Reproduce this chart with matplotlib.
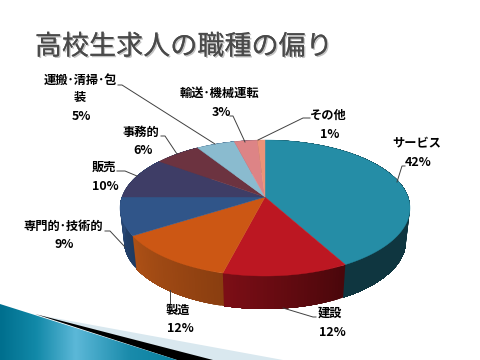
import numpy as np
import matplotlib
matplotlib.use('Agg')
import matplotlib.pyplot as plt
import matplotlib.patheffects as pe
from matplotlib.colors import LinearSegmentedColormap, to_rgb
from matplotlib.patches import Polygon

plt.rcParams['font.family'] = ['Noto Sans CJK JP', 'DejaVu Sans']

title = '高校生求人の職種の偏り'
categories = ['サービス', '建設', '製造', '専門的･技術的', '販売', '事務的', '運搬･清掃･包\n装', '輸送･機械運転', 'その他']
values = [42, 12, 12, 9, 10, 6, 5, 3, 1]
top_colors = ['#258da6', '#bc1722', '#cc5714', '#305589', '#3e3d66', '#6c3340', '#8abbcf', '#dd8486', '#ec9378']
wall_left = ['#0f3640', '#7c0e16', '#ad5016', '#2a4a78', '#2a4a78', '#2a4a78', '#2a4a78', '#2a4a78', '#2a4a78']
wall_right = ['#0f3640', '#4a070b', '#8a3e10', '#1f3b62', '#1f3b62', '#1f3b62', '#1f3b62', '#1f3b62', '#1f3b62']

# label line positions in pixels, name then percent
name_pos = [(417, 143), (330, 313), (178, 310), (63, 226), (104, 167), (141, 132), (80, 80), (219, 93), (328, 115)]
pct_pos = [(418, 162), (332, 332), (180, 329), (64, 245), (105, 186), (143, 151), (81, 116), (221, 112), (330, 134)]
leaders = [
    [(397, 182), (402, 166), (405, 166)],
    [(283, 308), (313, 317), (316, 317)],
    [(170, 290), (170, 303)],
    [(105, 231), (110, 231), (125, 247)],
    [(117, 171), (125, 171), (137, 176)],
    [(161, 136), (165, 136), (177, 154)],
    [(118, 85), (122, 85), (215, 144)],
    [(230, 116), (233, 116), (245, 142)],
    [(310, 118), (303, 118), (258, 140)],
]

fig = plt.figure(figsize=(4.8, 3.6), dpi=100)
ax = fig.add_axes([0, 0, 1, 1])
ax.axis('off')

# tilted disc: a circle seen in perspective, so the hub sits above the ellipse centre
def project(deg, cy, rx, ry=68.0, hub=11.0):
    a = np.radians(deg)
    u, v = np.sin(a), np.cos(a)
    c = hub / ry
    k = 1 + c * v
    return 265 + rx * np.sqrt(1 - c * c) * u / k, cy - ry * (v + c) / k

edges = np.cumsum([0] + values) / sum(values) * 360

# side wall first, the top covers the back of it
# each step runs on to the end of its slice so no seams show between steps
for i in range(len(values)):
    steps = np.linspace(edges[i], edges[i + 1], values[i] * 3 + 2)
    c0 = np.array(to_rgb(wall_right[i]))
    c1 = np.array(to_rgb(wall_left[i]))
    for j in range(len(steps) - 1):
        x0, y0 = project(steps[j:], 208, 145)
        x1, y1 = project(steps[j:], 241, 141)
        col = c0 + (c1 - c0) * j / (len(steps) - 2)
        pts = np.column_stack([np.r_[x0, x1[::-1]], np.r_[y0, y1[::-1]]])
        ax.add_patch(Polygon(pts, fc=col, ec='none'))

for i in range(len(values)):
    x, y = project(np.linspace(edges[i], edges[i + 1], 80), 208, 145)
    pts = np.column_stack([np.r_[265, x], np.r_[197, y]])
    ax.add_patch(Polygon(pts, fc=top_colors[i], ec=top_colors[i], lw=0.3))

for line in leaders:
    ax.plot(*zip(*line), color='#404040', lw=0.7)

for i, name in enumerate(categories):
    parts = name.split('\n')
    for k, part in enumerate(parts):
        ax.text(name_pos[i][0], name_pos[i][1] + k * 17, part, ha='center', va='center',
                fontsize=8.8, color='black', fontweight='bold')
    ax.text(pct_pos[i][0], pct_pos[i][1], '%d%%' % values[i], ha='center', va='center',
            fontsize=9, color='black', fontweight='bold')

ax.text(184, 47, title, ha='center', va='center', fontsize=19.5, color='#4a4a4a',
        path_effects=[pe.withSimplePatchShadow(offset=(1, -1), shadow_rgbFace='#999999', alpha=0.6), pe.Normal()])

# corner decoration of the slide
ax.add_patch(Polygon([(38, 315), (283, 360), (178, 360)], fc='#d9e8ef', ec='none', zorder=1))
ax.add_patch(Polygon([(35, 314), (213, 360), (177, 360)], fc='black', ec='none', zorder=1.5))
teal = LinearSegmentedColormap.from_list('teal', [(0, '#006f8e'), (0.2, '#1289a8'), (0.42, '#5cb8d8'), (0.72, '#1a8bab'), (1, '#07809f')])
im = ax.imshow(np.linspace(0, 1, 200).reshape(1, -1), cmap=teal, extent=(0, 180, 360, 300), aspect='auto', zorder=2)
clip = Polygon([(0, 304), (177, 360), (0, 360)], transform=ax.transData, fc='none', ec='none')
ax.add_patch(clip)
im.set_clip_path(clip)
ax.set_xlim(0, 480)
ax.set_ylim(360, 0)

fig.savefig('out.png', dpi=100)
